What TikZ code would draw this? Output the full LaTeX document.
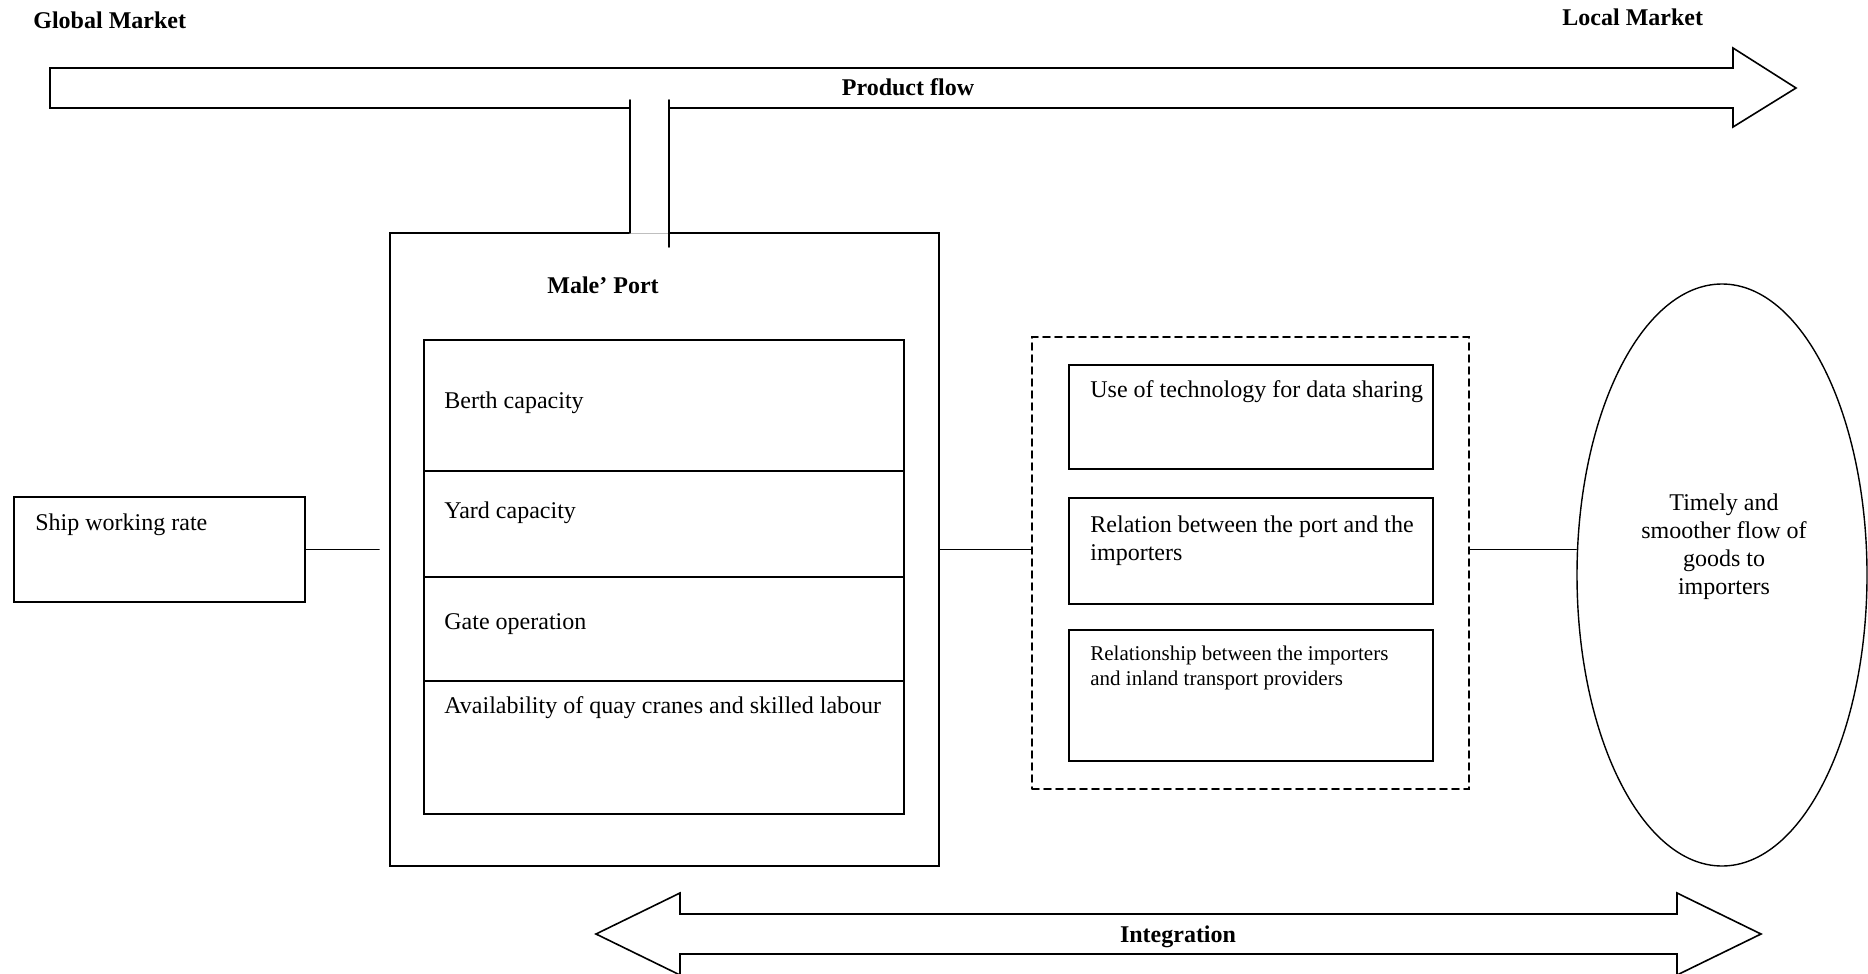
\documentclass[tikz,border=0pt]{standalone}
\usepackage{fontspec}
\setmainfont{Liberation Serif}
\usetikzlibrary{shapes.geometric}

\tikzset{
	box/.style={draw, rectangle, line width=0.8pt, inner sep=0pt},
	txt/.style={font=\fontsize{12}{14}\selectfont, inner sep=0pt},
	smalltxt/.style={font=\fontsize{10.5}{12.5}\selectfont, inner sep=0pt},
	ttl/.style={font=\fontsize{12}{14}\selectfont\bfseries, inner sep=0pt}
}

\begin{document}
\begin{tikzpicture}[line cap=round,x=0.5pt,y=-0.5pt]
		\useasboundingbox (0,0) rectangle (1868,974);
		% product flow arrow, open below where the port joins it
		\draw [line width=0.8pt] (669,108) -- (1733,108) -- (1733,127) -- (1796,88) -- (1733,48) -- (1733,68) -- (50,68) -- (50,108) -- (630,108);
		% integration arrow
		\draw [line width=0.8pt] (596,934) -- (680,893) -- (680,914) -- (1677,914) -- (1677,893) -- (1761,934) -- (1677,975) -- (1677,954) -- (680,954) -- (680,975) -- cycle;
		% port and its parts
		\node [box, minimum width=274.5pt, minimum height=316.5pt] (port) at (664.5,549.5) {};
		\draw [white, line width=1.6pt] (631,233) -- (668,233);
		\draw [gray!50, line width=0.4pt] (631,233) -- (668,233);
		\draw [line width=0.8pt] (630,100) -- (630,233);
		\draw [line width=0.8pt] (669,100) -- (669,247);
		\node [box, minimum width=240pt, minimum height=65.5pt] (berth) at (664,405.5) {};
		\node [box, minimum width=240pt, minimum height=53pt] (yard) at (664,524) {};
		\node [box, minimum width=240pt, minimum height=52pt] (gate) at (664,629) {};
		\node [box, minimum width=240pt, minimum height=66.5pt] (labour) at (664,747.5) {};
		\node [box, minimum width=145.5pt, minimum height=52.5pt] (ship) at (159.5,549.5) {};
		% links group
		\node [box, dash pattern=on 3.5pt off 2.5pt, minimum width=218.5pt, minimum height=226pt] (links) at (1250.5,563) {};
		\node [box, minimum width=182pt, minimum height=52pt] (tech) at (1251,417) {};
		\node [box, minimum width=182pt, minimum height=53pt] (relport) at (1251,551) {};
		\node [box, minimum width=182pt, minimum height=65.5pt] (inland) at (1251,695.5) {};
		\node [draw, ellipse, line width=0.7pt, inner sep=0pt, minimum width=145pt, minimum height=291pt] (goods) at (1722,575) {};
		% connectors
		\coordinate (shipend) at (379,549);
		\draw [line width=0.8pt] (ship.east) -- (shipend |- ship.east);
		\draw [line width=0.8pt] (port.east) -- (port.east -| links.west);
		\draw [line width=0.8pt] (port.east -| links.east) -- (port.east -| goods.west);
		% texts
		\node [ttl, anchor=base west] (global) at (33,29) {Global Market};
		\node [ttl, anchor=base west] (local) at (1562,26) {Local Market};
		\node [ttl, anchor=base] (flow) at (908,96) {Product flow};
		\node [ttl, anchor=base] (portname) at (603,293) {Male’ Port};
		\node [ttl, anchor=base] (integ) at (1178,942) {Integration};
		\node [txt, anchor=base west] at (35,530) {Ship working rate};
		\node [txt, anchor=base west] at (444,408) {Berth capacity};
		\node [txt, anchor=base west] at (444,518) {Yard capacity};
		\node [txt, anchor=base west] at (444,629) {Gate operation};
		\node [txt, anchor=base west] at (444,713) {Availability of quay cranes and skilled labour};
		\node [txt, anchor=base west] at (1090,397) {Use of technology for data sharing};
		\node [txt, anchor=north west, align=left] at (1090,515) {Relation between the port and the\\importers};
		\node [smalltxt, anchor=north west, align=left] at (1090,646) {Relationship between the importers\\and inland transport providers};
		\node [txt, anchor=north, align=center] at (1724,493) {Timely and\\smoother flow of\\goods to\\importers};
	\end{tikzpicture}
\end{document}
